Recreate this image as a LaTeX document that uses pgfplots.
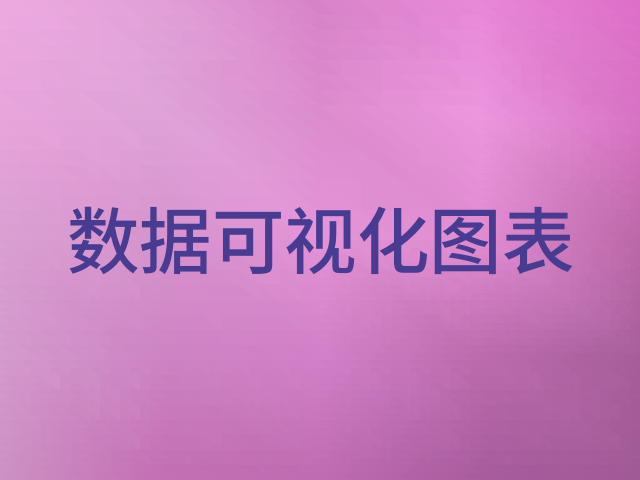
\documentclass[border=0pt]{standalone}
\usepackage{fontspec}
\usepackage{xcolor}
\usepackage{pgfplots}
\pgfplotsset{compat=1.18}
\newfontfamily\cjk[UprightFont=* Medium]{Noto Sans CJK SC}
\definecolor{titleblue}{RGB}{72,60,146}

\begin{document}
\begin{tikzpicture}
\begin{axis}[
  width=640bp,
  height=480bp,
  scale only axis,
  xmin=0, xmax=640,
  ymin=0, ymax=480,
  hide axis,
  clip=true,
]
% background colour field, one colour per grid point
\addplot[surf, shader=interp, mesh/color input=explicit, mesh/rows=5, mesh/cols=5]
  table[x=x, y=y, meta=c] {
x   y   c
0   0   rgb255=205,145,195
160 0   rgb255=195,112,180
320 0   rgb255=192,108,178
480 0   rgb255=168,92,158
640 0   rgb255=160,90,150

0   120 rgb255=212,155,205
160 120 rgb255=205,132,195
320 120 rgb255=210,128,200
480 120 rgb255=188,108,173
640 120 rgb255=166,94,154

0   240 rgb255=218,160,210
160 240 rgb255=215,148,205
320 240 rgb255=228,148,215
480 240 rgb255=225,140,210
640 240 rgb255=188,104,168

0   360 rgb255=232,165,220
160 360 rgb255=222,163,216
320 360 rgb255=220,140,205
480 360 rgb255=236,150,222
640 360 rgb255=215,115,195

0   480 rgb255=237,170,225
160 480 rgb255=225,160,215
320 480 rgb255=215,130,200
480 480 rgb255=232,135,215
640 480 rgb255=222,110,200
};
\node[text=titleblue, font=\cjk\fontsize{72.5bp}{72.5bp}\selectfont, inner sep=0pt]
  at (axis cs:321,239) {数据可视化图表};
\end{axis}
\end{tikzpicture}
\end{document}
